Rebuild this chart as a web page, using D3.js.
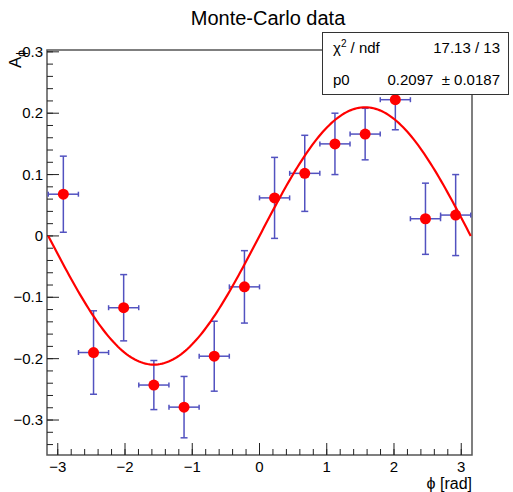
<!DOCTYPE html>
<html>
<head>
<meta charset="utf-8">
<script src="https://cdn.jsdelivr.net/npm/d3@7"></script>
<style>
  body { margin: 0; background: #fff; }
  svg { display: block; font-family: "Liberation Sans", Arial, sans-serif; }
</style>
</head>
<body>
<div id="grafico"></div>
<script>
// Datos
const phiCenters = [-2.917, -2.468, -2.020, -1.571, -1.122, -0.673, -0.224, 0.224, 0.673, 1.122, 1.571, 2.020, 2.468, 2.917];
const phiErr = [0.224, 0.224, 0.224, 0.224, 0.224, 0.224, 0.224, 0.224, 0.224, 0.224, 0.224, 0.224, 0.224, 0.224];
const asymValues = [0.068, -0.190, -0.117, -0.243, -0.279, -0.196, -0.083, 0.062, 0.102, 0.150, 0.166, 0.222, 0.028, 0.034];
const asymErr = [0.062, 0.068, 0.054, 0.040, 0.050, 0.057, 0.059, 0.066, 0.062, 0.050, 0.042, 0.049, 0.058, 0.066];
const xTicks = [-3, -2, -1, 0, 1, 2, 3];
const yTicks = [-0.3, -0.2, -0.1, 0, 0.1, 0.2, 0.3];
const fitP0 = 0.2097;
const statRows = [["χ", "17.13 / 13"], ["p0", "0.2097  ± 0.0187"]];

const W = 513, H = 492;
const frame = { left: 47, right: 472, top: 50, bottom: 455 };

const svg = d3.select("#grafico").append("svg")
    .attr("width", W)
    .attr("height", H);

const x = d3.scaleLinear().domain([-3.16, 3.16]).range([frame.left, frame.right]);
const y = d3.scaleLinear().domain([-0.357, 0.303]).range([frame.bottom, frame.top]);

// Titulo
svg.append("text")
    .attr("x", 268).attr("y", 25)
    .attr("text-anchor", "middle")
    .style("font-size", "20px")
    .text("Monte-Carlo data");

// Marco
svg.append("rect")
    .attr("x", frame.left).attr("y", frame.top)
    .attr("width", frame.right - frame.left)
    .attr("height", frame.bottom - frame.top)
    .attr("fill", "none")
    .attr("stroke", "#555")
    .attr("stroke-width", 1.5);

// Eje X (ticks hacia dentro)
const xMinor = d3.range(-3.2, 3.21, 0.2).filter(v => x(v) > frame.left && x(v) < frame.right);
const gx = svg.append("g").attr("class", "x-axis");
gx.selectAll("line.minor").data(xMinor).enter().append("line")
    .attr("x1", d => x(d)).attr("x2", d => x(d))
    .attr("y1", frame.bottom).attr("y2", frame.bottom - 6)
    .attr("stroke", "#222").attr("stroke-width", 1);
gx.selectAll("line.major").data(xTicks).enter().append("line")
    .attr("x1", d => x(d)).attr("x2", d => x(d))
    .attr("y1", frame.bottom).attr("y2", frame.bottom - 12)
    .attr("stroke", "#222").attr("stroke-width", 1);
gx.selectAll("text").data(xTicks).enter().append("text")
    .attr("x", d => x(d)).attr("y", 472)
    .attr("text-anchor", "middle")
    .style("font-size", "15px")
    .text(d => d < 0 ? "\u2212" + Math.abs(d) : d);

svg.append("text")
    .attr("x", frame.right).attr("y", 489)
    .attr("text-anchor", "end")
    .style("font-size", "16px")
    .text("ϕ [rad]");

// Eje Y
const yMinor = d3.range(-0.36, 0.301, 0.02).filter(v => y(v) < frame.bottom && y(v) > frame.top);
const gy = svg.append("g").attr("class", "y-axis");
gy.selectAll("line.minor").data(yMinor).enter().append("line")
    .attr("x1", frame.left).attr("x2", frame.left + 6)
    .attr("y1", d => y(d)).attr("y2", d => y(d))
    .attr("stroke", "#222").attr("stroke-width", 1);
gy.selectAll("line.major").data(yTicks).enter().append("line")
    .attr("x1", frame.left).attr("x2", frame.left + 12)
    .attr("y1", d => y(d)).attr("y2", d => y(d))
    .attr("stroke", "#222").attr("stroke-width", 1);
gy.selectAll("text").data(yTicks).enter().append("text")
    .attr("x", 43).attr("y", d => y(d) + 5)
    .attr("text-anchor", "end")
    .style("font-size", "15px")
    .text(d => d === 0 ? "0" : (d < 0 ? "\u2212" + Math.abs(d).toFixed(1) : d.toFixed(1)));

const yTitle = svg.append("text")
    .attr("transform", `translate(21,${frame.top}) rotate(-90)`)
    .attr("text-anchor", "end")
    .style("font-size", "17px");
yTitle.append("tspan").text("A");
yTitle.append("tspan").attr("dy", 4).style("font-size", "12px").text("ϕ");

// Barras de error
const pts = phiCenters.map((p, i) => ({ x: p, ex: phiErr[i], y: asymValues[i], ey: asymErr[i] }));
const errColor = "#5252c0";
const gErr = svg.append("g").attr("stroke", errColor).attr("stroke-width", 1.5);
pts.forEach(d => {
    const cx = x(d.x), cy = y(d.y);
    const x0 = x(d.x - d.ex), x1 = x(d.x + d.ex);
    const yt = Math.max(y(d.y + d.ey), frame.top), yb = y(d.y - d.ey);
    gErr.append("line").attr("x1", x0).attr("x2", x1).attr("y1", cy).attr("y2", cy);
    gErr.append("line").attr("x1", cx).attr("x2", cx).attr("y1", yt).attr("y2", yb);
    gErr.append("line").attr("x1", x0).attr("x2", x0).attr("y1", cy - 2.5).attr("y2", cy + 2.5);
    gErr.append("line").attr("x1", x1).attr("x2", x1).attr("y1", cy - 2.5).attr("y2", cy + 2.5);
    gErr.append("line").attr("x1", cx - 3.5).attr("x2", cx + 3.5).attr("y1", yt).attr("y2", yt);
    gErr.append("line").attr("x1", cx - 3.5).attr("x2", cx + 3.5).attr("y1", yb).attr("y2", yb);
});

svg.selectAll("circle.pt").data(pts).enter().append("circle")
    .attr("class", "pt")
    .attr("cx", d => x(d.x)).attr("cy", d => y(d.y))
    .attr("r", 5.5)
    .attr("fill", "#ff0000");

// Curva del ajuste p0*sin(x)
const curveX = d3.range(-Math.PI, Math.PI + 0.001, Math.PI / 100);
svg.append("path")
    .datum(curveX)
    .attr("fill", "none")
    .attr("stroke", "#ff0000")
    .attr("stroke-width", 2.2)
    .attr("d", d3.line().x(d => x(d)).y(d => y(fitP0 * Math.sin(d))));

// Caja de estadisticas
const box = svg.append("g");
box.append("rect")
    .attr("x", 322.5).attr("y", 32.5)
    .attr("width", 186).attr("height", 62)
    .attr("fill", "#fff")
    .attr("stroke", "#333").attr("stroke-width", 1);
const r1 = box.append("text").attr("x", 333).attr("y", 53).style("font-size", "15px");
r1.append("tspan").text("χ");
r1.append("tspan").attr("dy", -6).style("font-size", "10px").text("2");
r1.append("tspan").attr("dy", 6).text(" / ndf");
box.append("text").attr("x", 500).attr("y", 53).attr("text-anchor", "end")
    .style("font-size", "15px").text(statRows[0][1]);
box.append("text").attr("x", 333).attr("y", 85).style("font-size", "15px").text(statRows[1][0]);
box.append("text").attr("x", 500).attr("y", 85).attr("text-anchor", "end")
    .style("font-size", "15px").style("white-space", "pre").text(statRows[1][1]);
</script>
</body>
</html>
